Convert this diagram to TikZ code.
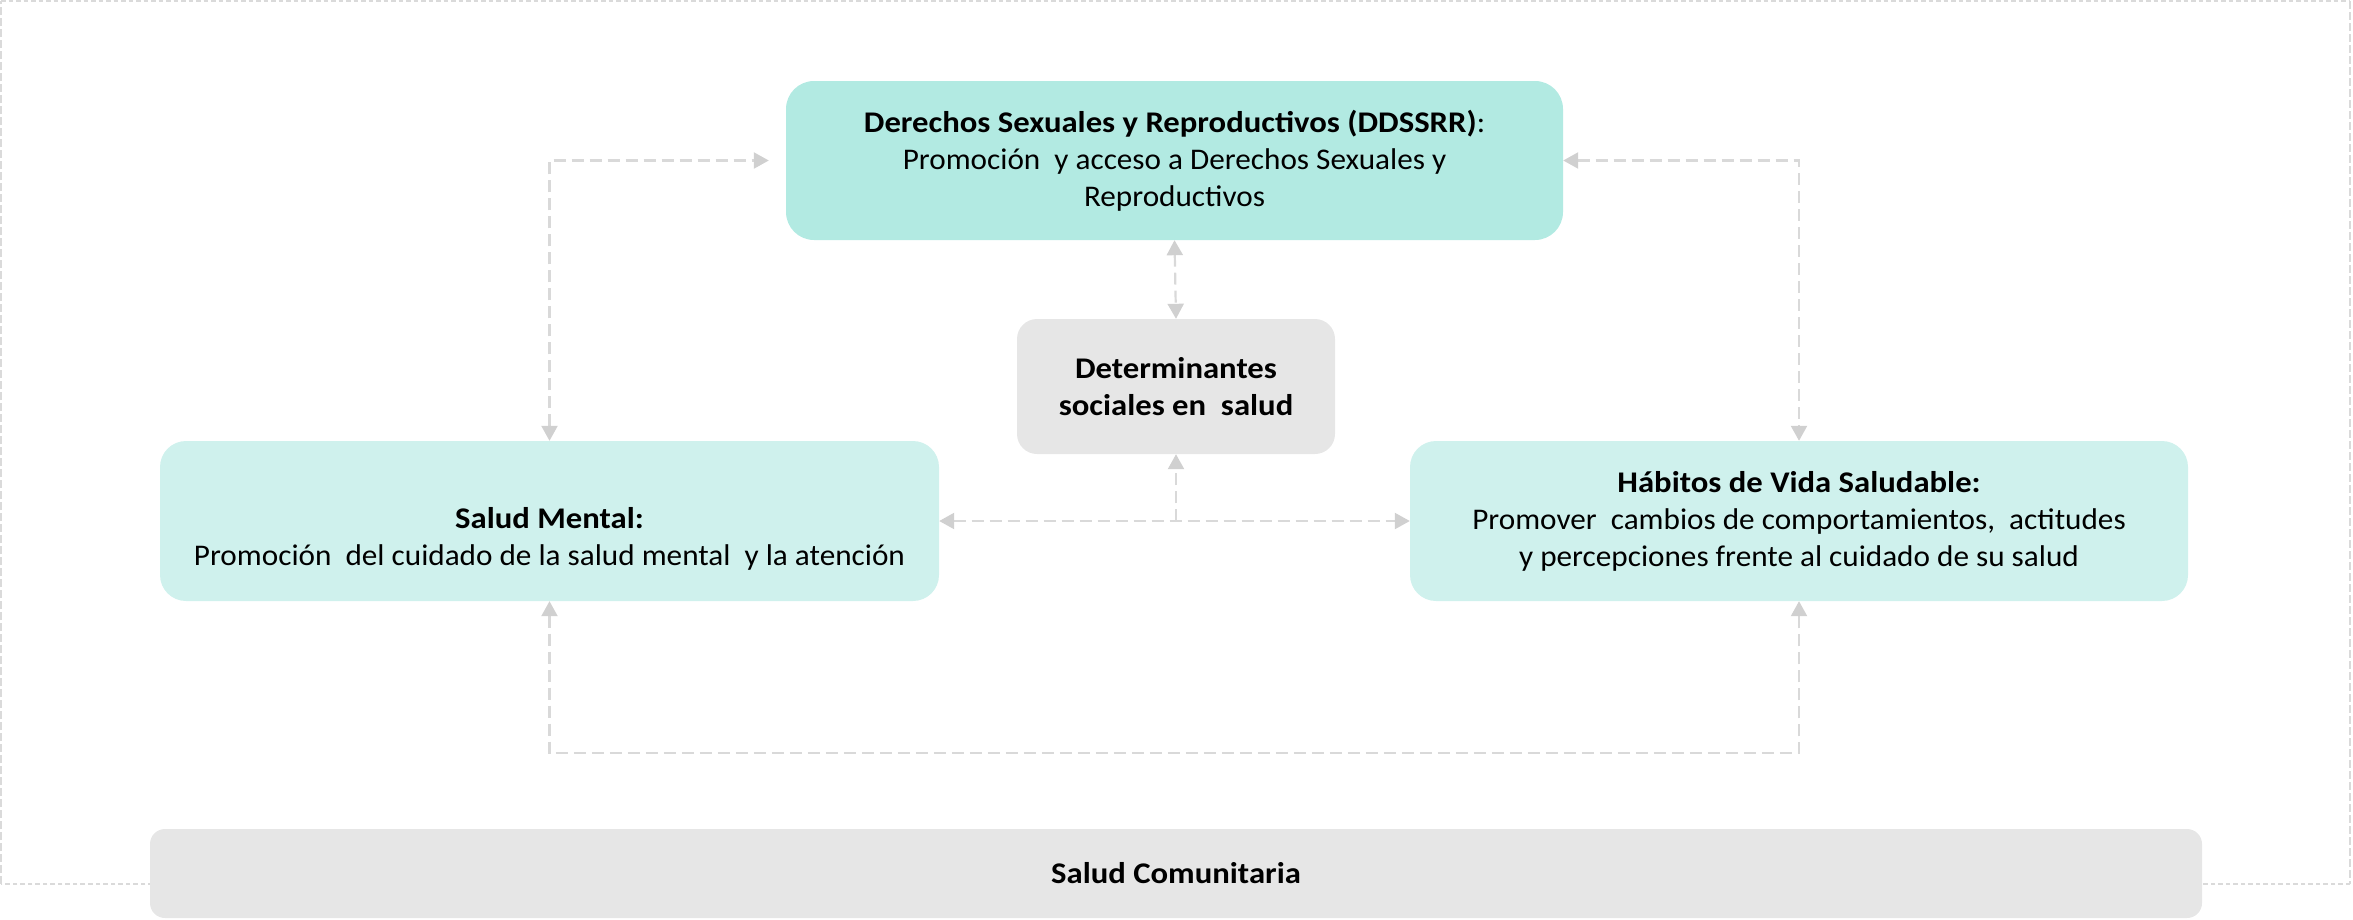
\documentclass[tikz,border=0pt]{standalone}
\usepackage{fontspec}
\setmainfont{Carlito}[FakeStretch=1.04]
\newfontfamily\bff{Carlito}[FakeStretch=1.09]
\newcommand{\bt}[1]{{\bff\bfseries #1}}
\usetikzlibrary{arrows.meta,calc}
\definecolor{tealdark}{HTML}{B2EAE2}
\definecolor{teallight}{HTML}{CFF1ED}
\definecolor{boxgray}{HTML}{E6E6E6}
\definecolor{linegray}{HTML}{D9D9D9}
\definecolor{tipgray}{HTML}{D0D0D0}
\definecolor{framegray}{HTML}{DADADA}
\begin{document}
\begin{tikzpicture}[x=1pt,y=-1pt,
  box/.style={draw=none,inner sep=0pt,align=center,font=\fontsize{30}{37}\selectfont},
  link/.style={draw=linegray,line width=2.2pt,dash pattern=on 12pt off 6pt,
    {Triangle[length=15pt,width=16pt,color=tipgray]}-{Triangle[length=15pt,width=16pt,color=tipgray]}},
  onelink/.style={draw=linegray,line width=2.2pt,dash pattern=on 12pt off 6pt,
    -{Triangle[length=15pt,width=16pt,color=tipgray]}},
  frameh/.style={draw=framegray,line width=1.5pt,dash pattern=on 4.5pt off 3pt},
  framev/.style={draw=framegray,line width=1.5pt,dash pattern=on 8pt off 3pt}]
\useasboundingbox (0,0) rectangle (2353,919);
% outer frame
\draw[frameh] (1,1) -- (2350,1);
\draw[framev] (2350,1) -- (2350,884);
\draw[frameh] (2350,884) -- (1,884);
\draw[framev] (1,884) -- (1,1);
% boxes
\node[box,fill=tealdark,rounded corners=28pt,minimum width=777pt,minimum height=159pt] (DD) at (1174.5,160.5)
 {\bt{Derechos Sexuales y Reproductivos (DDSSRR)}:\\Promoción\ \ y acceso a Derechos Sexuales y\\Reproductivos};
\node[box,fill=boxgray,rounded corners=20pt,minimum width=318pt,minimum height=135pt] (DET) at (1176,386.5)
 {\bt{Determinantes}\\\bt{sociales en\ \ salud}};
\node[box,fill=teallight,rounded corners=26pt,minimum width=779pt,minimum height=160pt] (SM) at (549.5,521)
 {\strut\\\bt{Salud Mental:}\\Promoción\ \ del cuidado de la salud mental\ \ y la atención\strut};
\node[box,fill=teallight,rounded corners=26pt,minimum width=778pt,minimum height=160pt] (HV) at (1799,521)
 {\bt{Hábitos de Vida Saludable:}\\Promover\ \ cambios de comportamientos,\ \ actitudes\\y percepciones frente al cuidado de su salud};
\node[box,fill=boxgray,rounded corners=15pt,minimum width=2052pt,minimum height=89pt] (SC) at (1176,873.5)
 {\bt{Salud Comunitaria}};
% connectors
\draw[link,shorten >=17pt] (SM.north) |- (DD.west);
\draw[link] (DD.east) -| (HV.north);
\draw[link] (DD.south) -- (DET.north);
\draw[link] (SM.east) -- (HV.west);
\coordinate (mid) at (DET.south |- SM.east);
\draw[onelink] (mid) -- (DET.south);
\coordinate (low) at ($(SM.south)+(0,152)$);
\draw[link] (SM.south) -- (low) -| (HV.south);
\end{tikzpicture}
\end{document}
